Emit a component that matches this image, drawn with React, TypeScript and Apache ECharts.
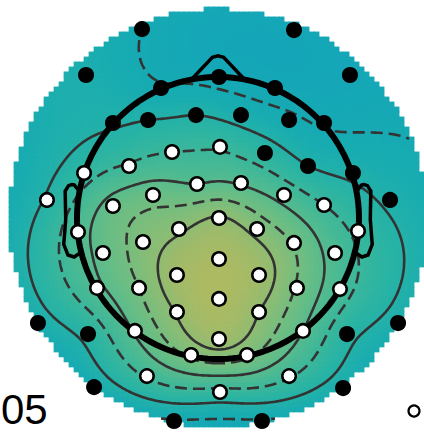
import { useEffect, useRef } from "react";
import * as echarts from "echarts";

// Electrode positions in head units (head radius = 1, nose up)
const electrodeX = [
  -0.539, 0.539, -0.936, 0.936, 0.007, -0.404, 0.404, -0.745, -0.496, -0.156,
  0.163, 0.504, 0.752, 0.333, 0.638, 0.957, 1.22, -1.277, -0.922, 0.915,
  1.277, -0.879, 0.887, -0.312, 0.312, -0.326, -0.631, -0.95, -1.213, 0.014,
  -0.149, 0.163, -0.461, 0.468, -0.745, 0.752, -0.993, 0.993, 0.007, -0.277,
  0.277, -0.532, 0.539, -0.816, 0.83, 0.007, -0.291, 0.291, -0.858, -0.56,
  0.56, 0.865, 0.007, -0.291, 0.291, -0.589, 0.603, 0.007, -0.191, 0.206,
  -0.504, 0.504, 0.014,
];
const electrodeY = [
  1.34, 1.333, 1.014, 1.014, 1.0, 0.922, 0.922, 0.674, 0.695, 0.73,
  0.73, 0.695, 0.674, 0.461, 0.369, 0.319, 0.128, -0.745, -0.823, -0.823,
  -0.745, -1.199, -1.206, -1.44, -1.44, 0.468, 0.369, 0.319, 0.128, 0.504,
  0.241, 0.248, 0.163, 0.163, 0.085, 0.092, -0.099, -0.092, 0.0, -0.078,
  -0.078, -0.17, -0.177, -0.248, -0.248, -0.291, -0.404, -0.404, -0.496, -0.496,
  -0.496, -0.504, -0.574, -0.667, -0.667, -0.801, -0.801, -0.858, -0.972, -0.972,
  -1.121, -1.121, -1.234,
];
// Scalp value at each electrode
const electrodeValue = [
  1.0, 0.4, 1.6, 0.5, 0.7, 1.1, 0.6, 1.9, 2.0, 2.0,
  1.6, 1.2, 0.9, 2.5, 2.0, 1.8, 1.8, 1.5, 2.3, 2.3,
  1.6, 1.3, 1.4, 0.9, 0.9, 3.0, 3.1, 2.6, 2.1, 2.9,
  4.0, 3.9, 4.6, 3.6, 4.4, 3.0, 3.6, 2.8, 6.1, 5.8,
  5.6, 5.4, 4.9, 4.3, 3.6, 7.3, 6.8, 6.7, 3.8, 5.0,
  4.9, 3.4, 7.5, 6.1, 6.0, 4.1, 4.0, 6.6, 5.2, 5.2,
  3.1, 3.1, 2.7,
];
// 1 = highlighted electrode (white marker), 0 = other (black marker)
const electrodeHighlighted = [
  0, 0, 0, 0, 0, 0, 0, 0, 0, 0,
  0, 0, 0, 0, 0, 0, 0, 0, 0, 0,
  0, 0, 0, 0, 0, 1, 1, 1, 1, 1,
  1, 1, 1, 1, 1, 1, 1, 1, 1, 1,
  1, 1, 1, 1, 1, 1, 1, 1, 1, 1,
  1, 1, 1, 1, 1, 1, 1, 1, 1, 1,
  1, 1, 1,
];
const contourLevels = [1, 2, 3, 4, 5, 6];
const solidLevels = [2, 4, 6];
const colorStops = ["#14a6b8", "#18acb1", "#2bb4a3", "#47b995", "#66bd86", "#84bd78", "#9dbb6b", "#aeba61"];
const valueMin = 0.3;
const valueMax = 7.6;
const panelLabel = "05";

// Layout: 141 px per head unit, head centre at (218, 218)
const WIDTH = 424;
const HEIGHT = 432;
const PX = 141;
const CX = 218;
const CY = 218;
const DISC_R = 1.482;
const CELL = 5 / PX;
const STEP = 2 / PX;

// Head outline pieces (nose and ear shapes as in EEGLAB, scaled to head radius 1)
const noseX = [0.18, 0.04, 0, -0.04, -0.18];
const noseY = [0.9908, 1.14, 1.15, 1.14, 0.9908];
const earX = [0.984, 1.02, 1.036, 1.0598, 1.0838, 1.08, 1.094, 1.064, 1.02, 0.968];
const earY = [0.191, 0.235, 0.2366, 0.2292, 0.191, -0.011, -0.1864, -0.2626, -0.2768, -0.2398];

function green(r: number) {
  return r > 1e-12 ? r * r * (Math.log(r) - 1) : 0;
}

// Biharmonic spline weights (griddata 'v4' style)
function splineWeights(xs: number[], ys: number[], vs: number[]) {
  const n = xs.length;
  const a = xs.map((xi, i) => {
    const row = xs.map((xj, j) => green(Math.hypot(xi - xj, ys[i] - ys[j])));
    row.push(vs[i]);
    return row;
  });
  for (let c = 0; c < n; c++) {
    let p = c;
    for (let r = c + 1; r < n; r++) if (Math.abs(a[r][c]) > Math.abs(a[p][c])) p = r;
    const t = a[c];
    a[c] = a[p];
    a[p] = t;
    for (let r = c + 1; r < n; r++) {
      const f = a[r][c] / a[c][c];
      if (f !== 0) for (let k = c; k <= n; k++) a[r][k] -= f * a[c][k];
    }
  }
  const w = new Array(n).fill(0);
  for (let r = n - 1; r >= 0; r--) {
    let s = a[r][n];
    for (let k = r + 1; k < n; k++) s -= a[r][k] * w[k];
    w[r] = s / a[r][r];
  }
  return w;
}

function evalField(x: number, y: number, w: number[]) {
  let s = 0;
  for (let k = 0; k < w.length; k++) s += w[k] * green(Math.hypot(x - electrodeX[k], y - electrodeY[k]));
  return s;
}

// Marching squares on a square node grid, chained into polylines
function traceLevel(grid: Float64Array, m: number, x0: number, step: number, level: number) {
  const N = m + 1;
  const val = (i: number, j: number) => grid[i + j * N];
  const pts = new Map<string, number[]>();
  const segs: string[][] = [];
  const edge = (key: string, i: number, j: number, horiz: boolean) => {
    if (!pts.has(key)) {
      const v0 = val(i, j);
      const v1 = horiz ? val(i + 1, j) : val(i, j + 1);
      const t = (level - v0) / (v1 - v0);
      pts.set(key, horiz ? [x0 + (i + t) * step, x0 + j * step] : [x0 + i * step, x0 + (j + t) * step]);
    }
    return key;
  };
  for (let j = 0; j < m; j++) {
    for (let i = 0; i < m; i++) {
      const a = val(i, j), b = val(i + 1, j), c = val(i + 1, j + 1), d = val(i, j + 1);
      if (Number.isNaN(a) || Number.isNaN(b) || Number.isNaN(c) || Number.isNaN(d)) continue;
      const code = (a > level ? 1 : 0) | (b > level ? 2 : 0) | (c > level ? 4 : 0) | (d > level ? 8 : 0);
      if (code === 0 || code === 15) continue;
      const centre = (a + b + c + d) / 4 > level;
      let pairs: number[][] = [];
      switch (code) {
        case 1: pairs = [[3, 0]]; break;
        case 2: pairs = [[0, 1]]; break;
        case 3: pairs = [[3, 1]]; break;
        case 4: pairs = [[1, 2]]; break;
        case 5: pairs = centre ? [[0, 1], [2, 3]] : [[3, 0], [1, 2]]; break;
        case 6: pairs = [[0, 2]]; break;
        case 7: pairs = [[3, 2]]; break;
        case 8: pairs = [[2, 3]]; break;
        case 9: pairs = [[0, 2]]; break;
        case 10: pairs = centre ? [[3, 0], [1, 2]] : [[0, 1], [2, 3]]; break;
        case 11: pairs = [[1, 2]]; break;
        case 12: pairs = [[1, 3]]; break;
        case 13: pairs = [[0, 1]]; break;
        case 14: pairs = [[0, 3]]; break;
      }
      const keyOf = (e: number) =>
        e === 0 ? edge(`h${i}_${j}`, i, j, true)
        : e === 1 ? edge(`v${i + 1}_${j}`, i + 1, j, false)
        : e === 2 ? edge(`h${i}_${j + 1}`, i, j + 1, true)
        : edge(`v${i}_${j}`, i, j, false);
      for (const [p, q] of pairs) segs.push([keyOf(p), keyOf(q)]);
    }
  }
  const byKey = new Map<string, number[]>();
  segs.forEach((s, k) => {
    for (const key of s) {
      if (!byKey.has(key)) byKey.set(key, []);
      byKey.get(key)!.push(k);
    }
  });
  const used = new Uint8Array(segs.length);
  const grow = (chain: string[]) => {
    for (;;) {
      const last = chain[chain.length - 1];
      const nxt = (byKey.get(last) || []).find((s) => !used[s]);
      if (nxt === undefined) break;
      used[nxt] = 1;
      const s = segs[nxt];
      chain.push(s[0] === last ? s[1] : s[0]);
    }
  };
  const lines: number[][][] = [];
  for (let k = 0; k < segs.length; k++) {
    if (used[k]) continue;
    used[k] = 1;
    const chain = [segs[k][0], segs[k][1]];
    grow(chain);
    chain.reverse();
    grow(chain);
    lines.push(chain.map((key) => pts.get(key)!));
  }
  return lines;
}

function buildOption() {
  const w = splineWeights(electrodeX, electrodeY, electrodeValue);

  // Interpolated scalp map cells inside the plotting disc
  const nCells = Math.round((2 * DISC_R) / CELL);
  const cells: number[][] = [];
  for (let j = 0; j < nCells; j++) {
    for (let i = 0; i < nCells; i++) {
      const x = -DISC_R + (i + 0.5) * CELL;
      const y = -DISC_R + (j + 0.5) * CELL;
      if (x * x + y * y <= DISC_R * DISC_R) cells.push([x, y, evalField(x, y, w)]);
    }
  }

  // Contour node grid
  const m = Math.ceil((2 * DISC_R) / STEP);
  const grid = new Float64Array((m + 1) * (m + 1));
  for (let j = 0; j <= m; j++) {
    for (let i = 0; i <= m; i++) {
      const x = -DISC_R + i * STEP;
      const y = -DISC_R + j * STEP;
      grid[i + j * (m + 1)] = x * x + y * y <= DISC_R * DISC_R ? evalField(x, y, w) : NaN;
    }
  }
  const contourData: any[] = [];
  contourLevels.forEach((lv) => {
    traceLevel(grid, m, -DISC_R, STEP, lv).forEach((pl) => {
      if (pl.length < 3) return;
      contourData.push({
        coords: pl,
        lineStyle: { type: solidLevels.includes(lv) ? "solid" : [12, 6] },
      });
    });
  });

  const ring: number[][] = [];
  for (let k = 0; k <= 180; k++) {
    const t = (k / 180) * Math.PI * 2;
    ring.push([Math.cos(t), Math.sin(t)]);
  }
  const outline = [
    { coords: ring, lineStyle: { width: 6 } },
    { coords: noseX.map((x, k) => [x, noseY[k]]), lineStyle: { width: 3.5 } },
    { coords: earX.map((x, k) => [x, earY[k]]), lineStyle: { width: 3.5 } },
    { coords: earX.map((x, k) => [-x, earY[k]]), lineStyle: { width: 3.5 } },
  ];

  const openPts: number[][] = [];
  const filledPts: number[][] = [];
  electrodeX.forEach((x, k) => {
    (electrodeHighlighted[k] ? openPts : filledPts).push([x, electrodeY[k]]);
  });

  return {
    animation: false,
    grid: { left: 0, top: 0, width: WIDTH, height: HEIGHT },
    xAxis: { type: "value", min: -CX / PX, max: (WIDTH - CX) / PX, show: false },
    yAxis: { type: "value", min: -(HEIGHT - CY) / PX, max: CY / PX, show: false },
    visualMap: {
      type: "continuous",
      show: false,
      dimension: 2,
      seriesIndex: 0,
      min: valueMin,
      max: valueMax,
      inRange: { color: colorStops },
    },
    series: [
      {
        type: "custom",
        silent: true,
        z: 1,
        data: cells,
        encode: { x: 0, y: 1 },
        renderItem: (_p: any, api: any) => {
          const c = api.coord([api.value(0), api.value(1)]);
          const s = api.size([CELL, CELL]);
          return {
            type: "rect",
            shape: { x: c[0] - s[0] / 2 - 0.4, y: c[1] - s[1] / 2 - 0.4, width: s[0] + 0.8, height: s[1] + 0.8 },
            style: { fill: api.visual("color") },
          };
        },
      },
      {
        type: "lines",
        coordinateSystem: "cartesian2d",
        polyline: true,
        silent: true,
        z: 3,
        lineStyle: { color: "#333333", width: 2.6, opacity: 1 },
        data: contourData,
      },
      {
        type: "lines",
        coordinateSystem: "cartesian2d",
        polyline: true,
        silent: true,
        z: 4,
        lineStyle: { color: "#000000", width: 4, opacity: 1 },
        data: outline,
      },
      {
        type: "scatter",
        silent: true,
        z: 5,
        symbol: "circle",
        symbolSize: 13.5,
        itemStyle: { color: "#000000", borderColor: "#000000", borderWidth: 2.5, opacity: 1 },
        data: filledPts,
      },
      {
        type: "scatter",
        silent: true,
        z: 5,
        symbol: "circle",
        symbolSize: 13.5,
        itemStyle: { color: "#ffffff", borderColor: "#000000", borderWidth: 2.5, opacity: 1 },
        data: openPts,
      },
    ],
    graphic: [
      {
        type: "text",
        left: 1,
        top: 388,
        style: { text: panelLabel, fontSize: 42, fontFamily: "Liberation Sans, Arial, sans-serif", fill: "#000" },
      },
      {
        type: "circle",
        shape: { cx: 414, cy: 411, r: 5.5 },
        style: { fill: "#ffffff", stroke: "#000000", lineWidth: 2.2 },
      },
    ],
  };
}

export default function App() {
  const ref = useRef<HTMLDivElement>(null);
  useEffect(() => {
    if (!ref.current) return;
    const chart = echarts.init(ref.current, undefined, { renderer: "svg" });
    chart.setOption(buildOption() as any);
    return () => chart.dispose();
  }, []);
  return (
    <div
      ref={ref}
      style={{ position: "absolute", left: 0, top: 0, width: WIDTH, height: HEIGHT, background: "#fff" }}
    />
  );
}
